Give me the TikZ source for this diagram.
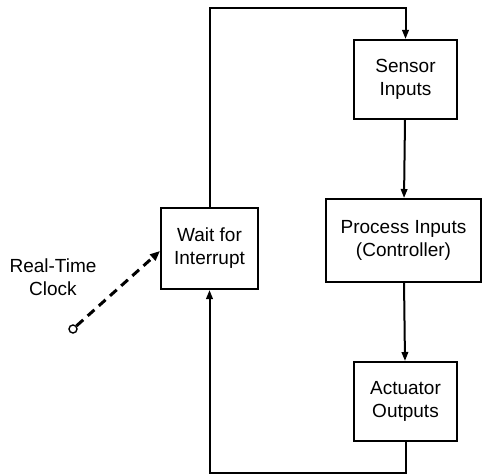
\documentclass[tikz,border=0pt]{standalone}
\usepackage{fontspec}
\setmainfont{Liberation Sans}
\usepackage{tikz}
\usetikzlibrary{
  arrows.meta,
  positioning,
  calc
}

\begin{document}
\begin{tikzpicture}[
        x=1pt, y=-1pt,
        box/.style={draw, line width=2pt, align=center, inner sep=0pt,
            font=\fontsize{19}{23}\selectfont},
        flow/.style={line width=2pt, -{Stealth[length=9pt, width=6.5pt, inset=0pt]}},
        clockline/.style={line width=3pt, dash pattern=on 9pt off 6pt,
            -{Stealth[length=10pt, width=8pt, inset=0pt]}}
    ]
        \useasboundingbox (0,0) rectangle (482,476);
        % Blocos do laço
        \node[box, minimum width=103, minimum height=79] (sensor) at (405.5,79.5) {Sensor\\Inputs};
        \node[box, minimum width=155, minimum height=83] (process) at (403.5,240.5) {Process Inputs\\(Controller)};
        \node[box, minimum width=103, minimum height=79] (actuator) at (405.5,401.5) {Actuator\\Outputs};
        \node[box, minimum width=97, minimum height=81] (wait) at (209.5,248.5) {Wait for\\Interrupt};
        % Relógio
        \node[font=\fontsize{19}{23}\selectfont, align=center] (rtc) at (53,277) {Real-Time\\Clock};
        \node[circle, draw, line width=1.4pt, fill=white, inner sep=0pt, minimum size=8] (clk) at (73,329) {};
        \coordinate (top) at (405.5,8);
        \coordinate (bot) at (405.5,473);
        % Ligações
        \draw[flow] (wait.north) |- (top) -- (sensor.north);
        \draw[flow] (sensor) -- (process);
        \draw[flow] (process) -- (actuator);
        \draw[flow] (actuator.south) -- (bot) -| (wait.south);
        \draw[clockline] (clk) -- ([yshift=-2.5pt]wait.west);
    \end{tikzpicture}
\end{document}
